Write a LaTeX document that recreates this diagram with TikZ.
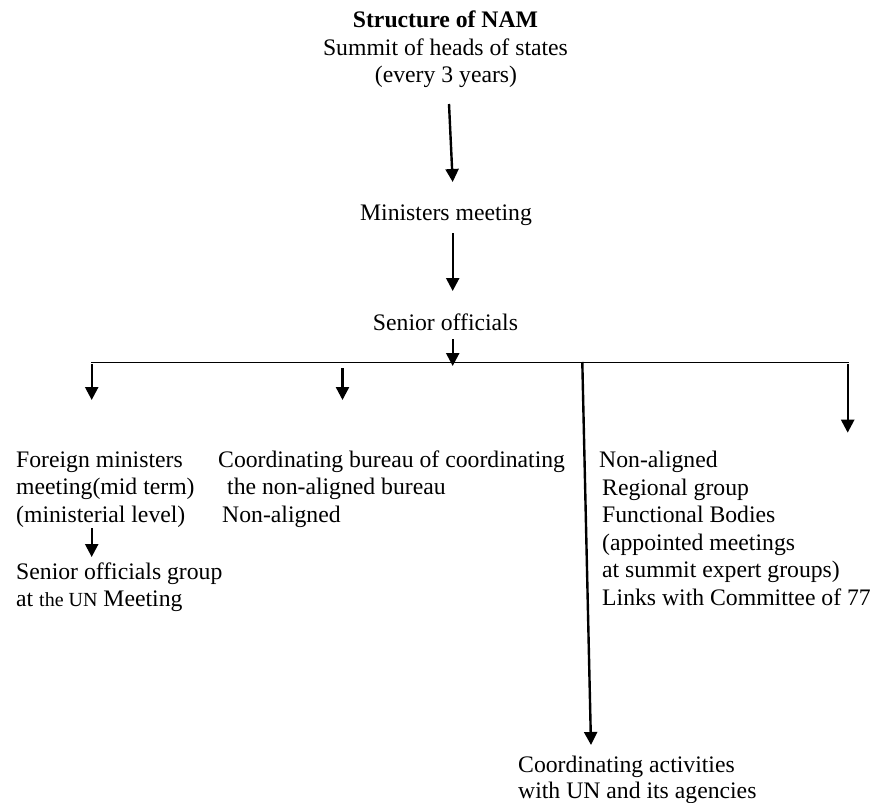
\documentclass[tikz,border=0pt]{standalone}
\usepackage{fontspec}
\setmainfont{Liberation Serif}
\usetikzlibrary{arrows.meta}
\begin{document}
\begin{tikzpicture}[x=1pt,y=-1pt,
  txt/.style={inner sep=0pt, font=\fontsize{23.7}{27.3}\selectfont},
  ctr/.style={txt, anchor=base},
  lft/.style={txt, anchor=base west},
  arr/.style={line width=2.4pt, -{Triangle[width=13pt,length=13pt]}},
  bar/.style={line width=1.5pt}]
\useasboundingbox (0,0) rectangle (876,803);
\fill[white] (0,0) rectangle (876,803);
% top block
\node[ctr, font=\fontsize{23.7}{27.3}\selectfont\bfseries] (title) at (445.5,27.7) {Structure of NAM};
\node[ctr] (summit) at (445.5,55) {Summit of heads of states};
\node[ctr] (every) at (446,82) {(every 3 years)};
\node[ctr] (ministers) at (446,220) {Ministers meeting};
\node[ctr] (senior) at (445.5,330) {Senior officials};
% left block
\node[lft] (fm1) at (16,467) {Foreign ministers};
\node[lft] (fm2) at (16,494.5) {meeting(mid term)};
\node[lft] (fm3) at (16,522) {(ministerial level)};
\node[lft] (so1) at (16,579) {Senior officials group};
\node[lft] (so2) at (16,606.5) {at {\fontsize{20}{24}\selectfont the UN} Meeting};
% middle block
\node[lft] (cb1) at (218,467) {Coordinating bureau of coordinating};
\node[lft] (cb2) at (227,494.5) {the non-aligned bureau};
\node[lft] (cb3) at (222,522) {Non-aligned};
% right block
\node[lft] (na1) at (599,467.5) {Non-aligned};
\node[lft] (na2) at (602,495) {Regional group};
\node[lft] (na3) at (602,522.5) {Functional Bodies};
\node[lft] (na4) at (602,550) {(appointed meetings};
\node[lft] (na5) at (602,577.5) {at summit expert groups)};
\node[lft] (na6) at (602,605) {Links with Committee of 77};
% bottom block
\node[lft] (ca1) at (518,772) {Coordinating activities};
\node[lft] (ca2) at (518,798) {with UN and its agencies};
% coordinates
\coordinate (a1s) at (449,104);
\coordinate (a1e) at (452.7,182);
\coordinate (a2s) at (452.7,233);
\coordinate (a2e) at (452.7,291);
\coordinate (a3s) at (452.7,339);
\coordinate (a3e) at (452.7,366);
\coordinate (hl) at (91,362.7);
\coordinate (hr) at (848.5,362.7);
\coordinate (b1s) at (91.7,364);
\coordinate (b1e) at (91.7,400);
\coordinate (b2s) at (342.5,368);
\coordinate (b2e) at (342.5,400);
\coordinate (b3s) at (582.3,362);
\coordinate (b3e) at (591,745);
\coordinate (b4s) at (847.7,364);
\coordinate (b4e) at (847.7,432.7);
\coordinate (c1s) at (91.7,528);
\coordinate (c1e) at (91.7,557);
% connectors
\draw[arr] (a1s) -- (a1e);
\draw[arr] (a2s) -- (a2e);
\draw[arr] (a3s) -- (a3e);
\draw[bar] (hl) -- (hr);
\draw[arr] (b1s) -- (b1e);
\draw[arr] (b2s) -- (b2e);
\draw[arr] (b3s) -- (b3e);
\draw[arr] (b4s) -- (b4e);
\draw[arr] (c1s) -- (c1e);
\end{tikzpicture}
\end{document}
